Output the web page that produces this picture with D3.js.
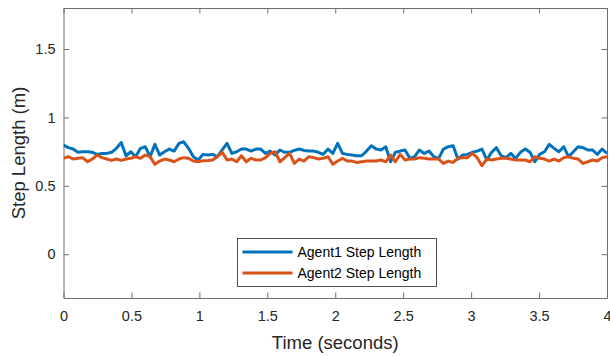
<!DOCTYPE html>
<html>
<head>
<meta charset="utf-8">
<script src="https://cdn.jsdelivr.net/npm/d3@7.9.0/dist/d3.min.js"></script>
<style>
  html, body { margin: 0; padding: 0; background: #fff; }
  svg { display: block; font-family: "Liberation Sans", Arial, sans-serif; }
  .axis text { fill: #262626; font-size: 14.5px; }
  .axis path, .axis line { stroke: #6e6e6e; }
</style>
</head>
<body>
<div id="chart"></div>
<script>
// ── Data ─────────────────────────────────────────────────────────────────────

const agent1 = [
  0.798, 0.779, 0.769, 0.745, 0.749, 0.749, 0.745, 0.730, 0.737, 0.737, 0.745, 0.774,
  0.817, 0.720, 0.749, 0.713, 0.774, 0.786, 0.713, 0.803, 0.725, 0.749, 0.769, 0.754,
  0.810, 0.822, 0.774, 0.713, 0.689, 0.730, 0.725, 0.730, 0.713, 0.762, 0.810, 0.737,
  0.749, 0.769, 0.769, 0.754, 0.769, 0.769, 0.737, 0.754, 0.725, 0.762, 0.745, 0.745,
  0.759, 0.769, 0.759, 0.754, 0.754, 0.745, 0.730, 0.769,
  0.737, 0.810, 0.737, 0.730, 0.725, 0.720, 0.720, 0.754, 0.793, 0.769, 0.762, 0.786,
  0.676, 0.745, 0.754, 0.762, 0.701, 0.713, 0.762, 0.737, 0.754, 0.713, 0.701, 0.769,
  0.786, 0.793, 0.696, 0.725, 0.730, 0.745, 0.754, 0.769, 0.689, 0.745, 0.779, 0.720,
  0.706, 0.737, 0.701, 0.745, 0.769, 0.745, 0.676, 0.730, 0.749, 0.803, 0.774, 0.749,
  0.786, 0.713, 0.749, 0.786, 0.779, 0.762, 0.762, 0.730, 0.769, 0.737
];

const agent2 = [
  0.701, 0.713, 0.696, 0.701, 0.706, 0.676, 0.696, 0.725, 0.706, 0.696, 0.686, 0.696,
  0.686, 0.696, 0.701, 0.713, 0.701, 0.725, 0.713, 0.657, 0.681, 0.696, 0.689, 0.676,
  0.696, 0.706, 0.701, 0.681, 0.676, 0.684, 0.686, 0.689, 0.713, 0.745, 0.689, 0.696,
  0.676, 0.720, 0.676, 0.701, 0.689, 0.689, 0.706, 0.737, 0.749, 0.676, 0.706, 0.737,
  0.664, 0.696, 0.681, 0.713, 0.706, 0.696, 0.701, 0.713,
  0.657, 0.681, 0.701, 0.681, 0.681, 0.671, 0.676, 0.681, 0.681, 0.681, 0.689, 0.676,
  0.725, 0.676, 0.730, 0.689, 0.696, 0.696, 0.706, 0.701, 0.696, 0.696, 0.696, 0.664,
  0.681, 0.671, 0.701, 0.706, 0.706, 0.737, 0.706, 0.647, 0.696, 0.689, 0.696, 0.701,
  0.701, 0.696, 0.689, 0.689, 0.689, 0.676, 0.713, 0.701, 0.696, 0.681, 0.696, 0.681,
  0.706, 0.713, 0.701, 0.696, 0.664, 0.676, 0.689, 0.681, 0.706, 0.713
];

const series = [
  { name: 'Agent1 Step Length', values: agent1, color: '#0072BD' },
  { name: 'Agent2 Step Length', values: agent2, color: '#D95319' },
];

const xDomain = [0, 4];
const yDomain = [-0.32, 1.8];
const xTicks = [0, 0.5, 1, 1.5, 2, 2.5, 3, 3.5, 4];
const yTicks = [0, 0.5, 1, 1.5];

// ── Layout ───────────────────────────────────────────────────────────────────

const width = 610;
const height = 356;
const margin = { top: 8, right: 3, bottom: 58, left: 63.5 };
const plot = {
  left: margin.left,
  right: width - margin.right,
  top: margin.top,
  bottom: height - margin.bottom,
};

const svg = d3.select('#chart').append('svg')
  .attr('width', width)
  .attr('height', height);

const x = d3.scaleLinear().domain(xDomain).range([plot.left, plot.right]);
const y = d3.scaleLinear().domain(yDomain).range([plot.bottom, plot.top]);

const fmt = (d) => String(d);
const tick = 5.5;

// Axes: ticks point inwards, box all round
svg.append('g').attr('class', 'axis')
  .attr('transform', `translate(0,${plot.bottom})`)
  .call(d3.axisBottom(x).tickValues(xTicks).tickFormat(fmt).tickSizeInner(-tick).tickSizeOuter(0).tickPadding(13))
  .call((g) => g.selectAll('text').attr('dy', '0.71em'));

svg.append('g').attr('class', 'axis')
  .attr('transform', `translate(0,${plot.top})`)
  .call(d3.axisTop(x).tickValues(xTicks).tickFormat('').tickSizeInner(-tick).tickSizeOuter(0));

svg.append('g').attr('class', 'axis')
  .attr('transform', `translate(${plot.left},0)`)
  .call(d3.axisLeft(y).tickValues(yTicks).tickFormat(fmt).tickSizeInner(-tick).tickSizeOuter(0).tickPadding(8));

svg.append('g').attr('class', 'axis')
  .attr('transform', `translate(${plot.right},0)`)
  .call(d3.axisRight(y).tickValues(yTicks).tickFormat('').tickSizeInner(-tick).tickSizeOuter(0));

// Lines
const line = d3.line()
  .x((d, i, arr) => x(xDomain[0] + (xDomain[1] - xDomain[0]) * i / (arr.length - 1)))
  .y((d) => y(d));

svg.append('clipPath').attr('id', 'clip')
  .append('rect')
  .attr('x', plot.left).attr('y', plot.top)
  .attr('width', plot.right - plot.left).attr('height', plot.bottom - plot.top);

svg.append('g').attr('clip-path', 'url(#clip)')
  .selectAll('path')
  .data(series)
  .join('path')
  .attr('fill', 'none')
  .attr('stroke', (d) => d.color)
  .attr('stroke-width', 3)
  .attr('stroke-linejoin', 'round')
  .attr('d', (d) => line(d.values));

// Axis titles
svg.append('text')
  .attr('x', (plot.left + plot.right) / 2)
  .attr('y', 349)
  .attr('text-anchor', 'middle')
  .attr('fill', '#262626')
  .style('font-size', '18.5px')
  .text('Time (seconds)');

svg.append('text')
  .attr('transform', `translate(25,${(plot.top + plot.bottom) / 2}) rotate(-90)`)
  .attr('text-anchor', 'middle')
  .attr('fill', '#262626')
  .style('font-size', '18.5px')
  .text('Step Length (m)');

// Legend
const legend = svg.append('g').attr('transform', 'translate(237.5,238.5)');
legend.append('rect')
  .attr('width', 199).attr('height', 48)
  .attr('fill', '#fff')
  .attr('stroke', '#262626')
  .attr('stroke-width', 0.8);

const item = legend.selectAll('g.item')
  .data(series)
  .join('g')
  .attr('class', 'item')
  .attr('transform', (d, i) => `translate(0,${13.5 + i * 21})`);

item.append('line')
  .attr('x1', 5).attr('x2', 55)
  .attr('stroke', (d) => d.color)
  .attr('stroke-width', 3);

item.append('text')
  .attr('x', 60)
  .attr('dy', '0.35em')
  .attr('fill', '#000')
  .style('font-size', '14px')
  .text((d) => d.name);
</script>
</body>
</html>
